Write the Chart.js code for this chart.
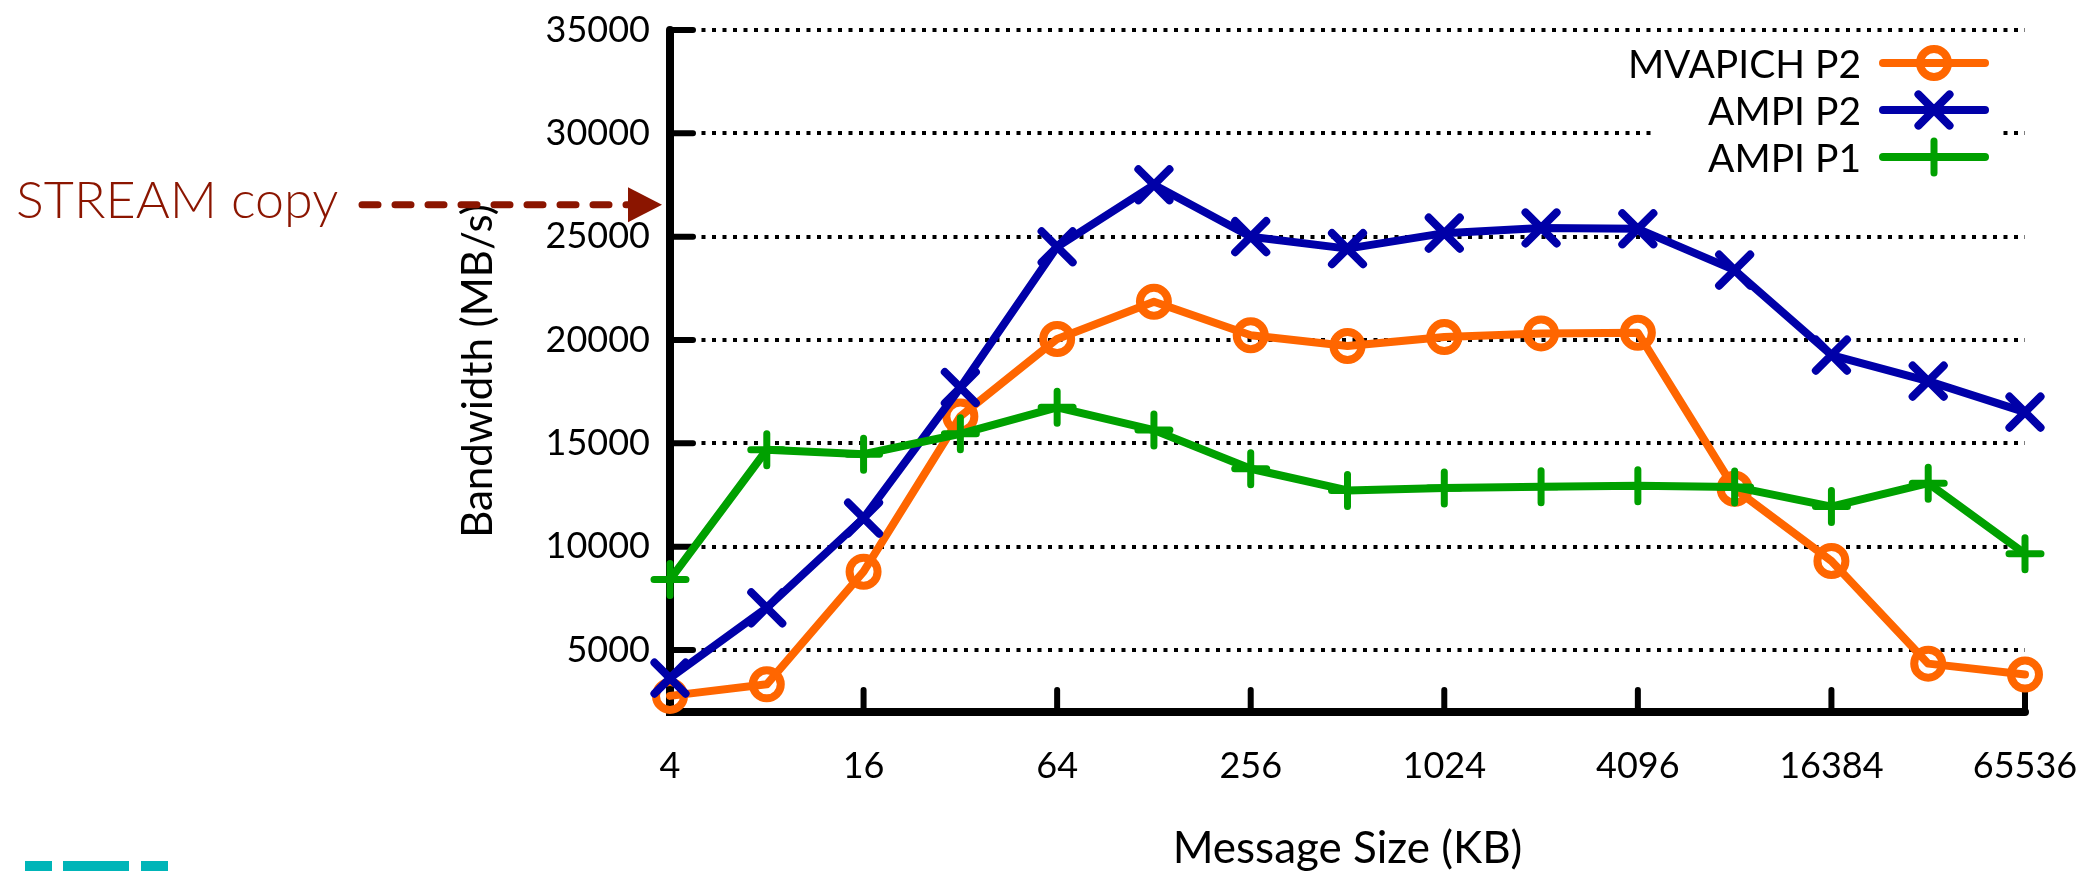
<!DOCTYPE html>
<html><head><meta charset="utf-8">
<script src="https://cdn.jsdelivr.net/npm/chart.js@4.4.1/dist/chart.umd.min.js"></script>
<style>html,body{margin:0;padding:0;background:#fff;} canvas{display:block;}</style>
</head><body>
<canvas id="c" width="2086" height="871"></canvas>
<script>
// ---- data ----
const messageSizes = ['4','8','16','32','64','128','256','512','1024','2048','4096','8192','16384','32768','65536'];
const mvapichP2 = [2780, 3340, 8790, 16300, 20050, 21850, 20230, 19710, 20140, 20320, 20350, 12800, 9310, 4340, 3810];
const ampiP2    = [3640, 7040, 11380, 17700, 24510, 27510, 25000, 24420, 25170, 25420, 25380, 23380, 19270, 18010, 16510];
const ampiP1    = [8410, 14690, 14470, 15460, 16740, 15640, 13770, 12720, 12840, 12900, 12950, 12890, 11940, 13070, 9660];
const seriesNames = ['MVAPICH P2', 'AMPI P2', 'AMPI P1'];
const yTickValues = [5000, 10000, 15000, 20000, 25000, 30000, 35000];
const streamCopy = 26550;
const streamLabel = 'STREAM copy';

const FONT = 'Lato, "Open Sans", sans-serif';

function drawMarker(ctx, style, x, y, r, bw, color) {
  ctx.save();
  ctx.strokeStyle = color; ctx.lineWidth = bw; ctx.lineCap = 'round';
  ctx.beginPath();
  if (style === 'circle') {
    ctx.arc(x, y, r, 0, Math.PI * 2);
  } else if (style === 'crossRot') {
    const d = r * Math.SQRT1_2;
    ctx.moveTo(x - d, y - d); ctx.lineTo(x + d, y + d);
    ctx.moveTo(x + d, y - d); ctx.lineTo(x - d, y + d);
  } else {
    ctx.moveTo(x - r, y); ctx.lineTo(x + r, y);
    ctx.moveTo(x, y - r); ctx.lineTo(x, y + r);
  }
  ctx.stroke();
  ctx.restore();
}

const axesPlugin = {
  id: 'gpAxes',
  beforeDatasetsDraw(chart) {
    const ctx = chart.ctx;
    const {left, right, top, bottom} = chart.chartArea;
    const xs = chart.scales.x, ys = chart.scales.y;
    ctx.save();
    // legend background (covers grid)
    ctx.fillStyle = '#fff';
    ctx.fillRect(1655, 38, 346, 142);
    ctx.strokeStyle = '#000';
    ctx.lineCap = 'round';
    ctx.lineWidth = 8;
    ctx.beginPath();
    ctx.moveTo(left, top); ctx.lineTo(left, bottom); ctx.lineTo(right, bottom);
    ctx.stroke();
    ctx.lineWidth = 6;
    ctx.beginPath();
    yTickValues.forEach(v => {
      const y = ys.getPixelForValue(v);
      ctx.moveTo(left, y); ctx.lineTo(left + 23, y);
    });
    messageSizes.forEach((s, i) => {
      if (i % 2 === 0) {
        const x = xs.getPixelForValue(i);
        ctx.moveTo(x, bottom); ctx.lineTo(x, bottom - 22);
      }
    });
    ctx.stroke();
    ctx.restore();
  },
  beforeDatasetDraw(chart) {
    chart.ctx.lineCap = 'round';
    chart.ctx.lineJoin = 'round';
  },
  afterDatasetsDraw(chart) {
    const ctx = chart.ctx;
    const order = [0, 1, 2];
    order.forEach((di, row) => {
      const ds = chart.data.datasets[di];
      const y = 63 + row * 47;
      ctx.save();
      ctx.fillStyle = '#000';
      ctx.font = '39px ' + FONT;
      ctx.textAlign = 'right';
      ctx.textBaseline = 'middle';
      ctx.fillText(ds.label, 1861, y + 2);
      ctx.strokeStyle = ds.borderColor;
      ctx.lineWidth = 8;
      ctx.lineCap = 'round';
      ctx.beginPath(); ctx.moveTo(1883, y); ctx.lineTo(1985, y); ctx.stroke();
      ctx.restore();
      drawMarker(ctx, ds.pointStyle, 1934, y, ds.pointRadius, ds.pointBorderWidth, ds.borderColor);
    });
  },
  afterDraw(chart) {
    const ctx = chart.ctx;
    const y = chart.scales.y.getPixelForValue(streamCopy);
    const tipX = chart.chartArea.left - 8;
    const red = '#8b1500';
    ctx.save();
    ctx.fillStyle = red;
    ctx.font = '300 52px ' + FONT;
    ctx.textAlign = 'left';
    ctx.textBaseline = 'middle';
    ctx.fillText(streamLabel, 16, y - 3);
    ctx.strokeStyle = red;
    ctx.lineWidth = 7;
    ctx.setLineDash([16, 17]);
    ctx.beginPath(); ctx.moveTo(362, y); ctx.lineTo(tipX - 34, y); ctx.stroke();
    ctx.setLineDash([]);
    ctx.beginPath();
    ctx.moveTo(tipX - 34, y - 17.5); ctx.lineTo(tipX, y); ctx.lineTo(tipX - 34, y + 17.5);
    ctx.closePath(); ctx.fill();
    // decorative slide logo fragments at the bottom-left
    ctx.fillStyle = '#00b5b8';
    ctx.fillRect(25, 861, 27, 10);
    ctx.fillRect(63, 861, 66, 10);
    ctx.fillRect(141, 861, 27, 10);
    ctx.restore();
  }
};

const common = {
  backgroundColor: 'rgba(0,0,0,0)',
  borderWidth: 8,
  pointBackgroundColor: 'rgba(0,0,0,0)',
  borderCapStyle: 'round',
  borderJoinStyle: 'round',
  tension: 0,
  clip: false,
  fill: false
};

new Chart(document.getElementById('c'), {
  type: 'line',
  data: {
    labels: messageSizes,
    datasets: [
      Object.assign({}, common, {label: seriesNames[0], data: mvapichP2, borderColor: '#ff6600', pointBorderColor: '#ff6600',
        pointStyle: 'circle', pointRadius: 14, pointBorderWidth: 8, order: 3}),
      Object.assign({}, common, {label: seriesNames[1], data: ampiP2, borderColor: '#0000a8', pointBorderColor: '#0000a8',
        pointStyle: 'crossRot', pointRadius: 22, pointBorderWidth: 8, order: 2}),
      Object.assign({}, common, {label: seriesNames[2], data: ampiP1, borderColor: '#00a000', pointBorderColor: '#00a000',
        pointStyle: 'cross', pointRadius: 16, pointBorderWidth: 7, order: 1})
    ]
  },
  options: {
    responsive: false,
    animation: false,
    events: [],
    devicePixelRatio: 1,
    layout: {padding: {left: 0, top: 25, right: 61, bottom: 0}},
    plugins: {legend: {display: false}, tooltip: {enabled: false}},
    scales: {
      x: {
        type: 'category',
        offset: false,
        grid: {display: false, drawTicks: false},
        border: {display: false},
        ticks: {autoSkip: false, maxRotation: 0, minRotation: 0, padding: 33, color: '#000',
          font: {family: FONT, size: 36},
          callback: (v, i) => (i % 2 === 0 ? messageSizes[i] : '')},
        title: {display: true, text: 'Message Size (KB)', color: '#000',
          font: {family: FONT, size: 44, lineHeight: 1}, padding: {top: 0, bottom: 0}},
        afterFit: s => { s.height = 159; s.paddingLeft = 0; s.paddingRight = 0; }
      },
      y: {
        min: 2000, max: 35000,
        afterBuildTicks: s => { s.ticks = yTickValues.map(v => ({value: v})); },
        grid: {color: '#000', lineWidth: 4, drawTicks: false},
        border: {display: false, dash: [4, 6.5]},
        ticks: {padding: 20, color: '#000', font: {family: FONT, size: 36}, callback: v => String(v)},
        title: {display: true, text: 'Bandwidth (MB/s)', color: '#000',
          font: {family: FONT, size: 42, lineHeight: 1.2}, padding: {top: 453, bottom: 0}},
        afterFit: s => { s.width = 670; s.paddingTop = 0; s.paddingBottom = 0; }
      }
    }
  },
  plugins: [axesPlugin]
});
</script>
</body></html>
